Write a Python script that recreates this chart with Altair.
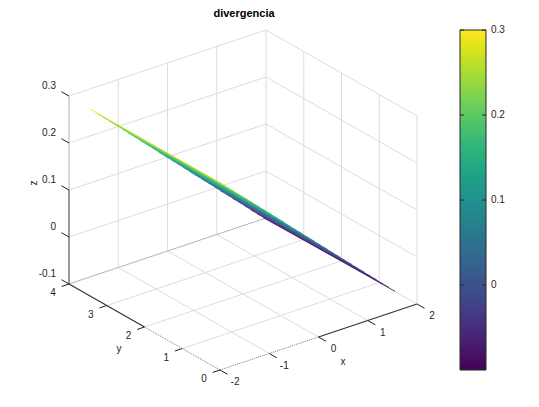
import altair as alt
import pandas as pd
import numpy as np

TITLE = "divergencia"
X_TICKS = [-2, -1, 0, 1, 2]
Y_TICKS = [0, 1, 2, 3, 4]
Z_TICKS = [-0.1, 0, 0.1, 0.2, 0.3]
BAR_TICKS = [0, 0.1, 0.2, 0.3]

SURF_X = [-1.75, -1.625, -1.5, -1.375, -1.25, -1.125, -1.0, -0.875, -0.75, -0.625,
          -0.5, -0.375, -0.25, -0.125, 0.0, 0.125, 0.25, 0.375, 0.5, 0.625,
          0.75, 0.875, 1.0, 1.125, 1.25, 1.375, 1.5, 1.625, 1.75]
SURF_Y = [0.25, 2.0, 3.75]
SURF_Z_Y0 = [.275, .262, .250, .237, .225, .212, .200, .187, .175, .162, .150, .137, .124, .112, .099,
             .087, .074, .062, .049, .037, .024, .012, -.001, -.013, -.026, -.038, -.051, -.063, -.076]
SURF_Z_Y1 = [.274, .262, .249, .237, .224, .212, .199, .187, .174, .162, .149, .136, .124, .111, .098,
             .086, .073, .061, .048, .036, .023, .010, -.002, -.014, -.027, -.040, -.052, -.065, -.077]
SURF_Z_Y2 = [.274, .261, .249, .236, .224, .211, .198, .186, .173, .161, .148, .135, .123, .110, .098,
             .085, .072, .060, .047, .035, .022, .009, -.003, -.016, -.028, -.041, -.054, -.066, -.079]
SURF_Z = [SURF_Z_Y0, SURF_Z_Y1, SURF_Z_Y2]

INK = "#262626"
FONT = "Liberation Sans"
W, H = 523, 391
sx = alt.Scale(domain=[8, 8 + W], range=[0, W], nice=False, zero=False)
sy = alt.Scale(domain=[8 + H, 8], range=[H, 0], nice=False, zero=False)
cs = alt.Scale(scheme="viridis", domain=[-0.1, 0.3], clamp=True)


def proj(x, y, z):
    """Oblique view of the box: x in [-2,2], y in [0,4], z in [-0.1,0.3]."""
    return (220 + (x + 2) * 49.25 - y * 37.75,
            370 - (x + 2) * 16.5 - y * 21.5 - (z + 0.1) * 470)


def bar_y(v):
    return 285 - v * 850


def seg_df(segs):
    rows = []
    for a, b in segs:
        p, q = proj(*a), proj(*b)
        rows.append({"px": p[0], "py": p[1], "px2": q[0], "py2": q[1]})
    return pd.DataFrame(rows)


def rules(df, color=None, **kw):
    enc = dict(
        x=alt.X("px:Q", scale=sx, axis=None),
        y=alt.Y("py:Q", scale=sy, axis=None),
        x2="px2:Q",
        y2="py2:Q",
    )
    return alt.Chart(df).mark_rule(color=color, **kw).encode(**enc)


def texts(rows, **kw):
    kw.setdefault("fontSize", 10)
    kw.setdefault("font", FONT)
    kw.setdefault("color", INK)
    return alt.Chart(pd.DataFrame(rows)).mark_text(**kw).encode(
        x=alt.X("px:Q", scale=sx, axis=None),
        y=alt.Y("py:Q", scale=sy, axis=None),
        text="label:N",
    )


zl, zh, fl = -0.1, 0.3, -0.1
grid = []
for v in [-1, 0, 1, 2]:
    grid.append(((v, 4, zl), (v, 4, zh)))
for v in [0, 1, 2, 3]:
    grid.append(((2, v, zl), (2, v, zh)))
for z in [0, 0.1, 0.2, 0.3]:
    grid.append(((-2, 4, z), (2, 4, z)))
    grid.append(((2, 0, z), (2, 4, z)))
for v in [-1, 0, 1]:
    grid.append(((v, 0, fl), (v, 4, fl)))
for v in [1, 2, 3]:
    grid.append(((-2, v, fl), (2, v, fl)))
grid.append(((2, 0, fl), (2, 4, fl)))

layers = [
    rules(seg_df(grid), color="#dcdcdc", strokeWidth=1),
    rules(seg_df([((-2, 4, fl), (2, 4, fl))]), color="#b4b4b4", strokeWidth=1),
    rules(seg_df([((-2, 4, 0.1), (-2, 4, 0.3))]), color="#bdbdbd", strokeWidth=1.2),
    rules(seg_df([((-2, 4, -0.1), (-2, 4, 0.1))]), color="#555555", strokeWidth=1.2),
    rules(seg_df([((-2, 2, fl), (-2, 4, fl)), ((0, 0, fl), (2, 0, fl))]), color="#333333", strokeWidth=1.2),
    rules(seg_df([((-2, 0, fl), (-2, 2, fl)), ((-2, 0, fl), (0, 0, fl))]), color="#777777",
          strokeWidth=1, strokeDash=[1, 1]),
]

ticks = []
for v in Z_TICKS:
    ticks.append(((-2, 4, v), (-2, 4.2, v)))
for v in Y_TICKS:
    ticks.append(((-2, v, fl), (-2.15, v, fl)))
for v in X_TICKS:
    ticks.append(((v, 0, fl), (v, -0.2, fl)))
layers.append(rules(seg_df(ticks), color="#222222", strokeWidth=1))

# surface: one coloured stroke per x value, per y span
surf = []
for i, x in enumerate(SURF_X):
    for j in range(len(SURF_Y) - 1):
        z0, z1 = SURF_Z[j][i], SURF_Z[j + 1][i]
        p, q = proj(x, SURF_Y[j], z0), proj(x, SURF_Y[j + 1], z1)
        surf.append({"px": p[0], "py": p[1], "px2": q[0], "py2": q[1], "z": (z0 + z1) / 2, "o": i})
layers.append(
    alt.Chart(pd.DataFrame(surf)).mark_rule(strokeWidth=0.8).encode(
        x=alt.X("px:Q", scale=sx, axis=None),
        y=alt.Y("py:Q", scale=sy, axis=None),
        x2="px2:Q",
        y2="py2:Q",
        color=alt.Color("z:Q", scale=cs, legend=None),
        order="o:Q",
    )
)

# colour bar
levels = np.linspace(-0.1, 0.3, 65)
bar = pd.DataFrame({
    "px": 460.0, "px2": 486.0,
    "py": [bar_y(v) for v in levels[:-1]],
    "py2": [bar_y(v) - 1.5 for v in levels[1:]],
    "v": (levels[:-1] + levels[1:]) / 2,
})
bar["py2"] = bar["py2"].clip(lower=bar_y(0.3))
layers.append(
    alt.Chart(bar).mark_rect().encode(
        x=alt.X("px:Q", scale=sx, axis=None),
        y=alt.Y("py:Q", scale=sy, axis=None),
        x2="px2:Q",
        y2="py2:Q",
        color=alt.Color("v:Q", scale=cs, legend=None),
        order="v:Q",
    )
)
frame = pd.DataFrame({"px": [460.0], "px2": [486.0], "py": [bar_y(-0.1)], "py2": [bar_y(0.3)]})
layers.append(
    alt.Chart(frame).mark_rect(fill=None, stroke="#262626", strokeWidth=1).encode(
        x=alt.X("px:Q", scale=sx, axis=None),
        y=alt.Y("py:Q", scale=sy, axis=None),
        x2="px2:Q",
        y2="py2:Q",
    )
)
bt = []
for v in BAR_TICKS:
    bt.append({"px": 460, "px2": 464, "py": bar_y(v), "py2": bar_y(v)})
    bt.append({"px": 482, "px2": 486, "py": bar_y(v), "py2": bar_y(v)})
layers.append(rules(pd.DataFrame(bt), color="#262626", strokeWidth=1))

# labels
layers.append(texts(
    [{"px": 491, "py": bar_y(v), "label": str(v)} for v in BAR_TICKS],
    align="left", baseline="middle"))
layers.append(texts(
    [{"px": proj(-2, 4, v)[0] - 13, "py": proj(-2, 4, v)[1] - 10, "label": str(v)} for v in Z_TICKS],
    align="right", baseline="middle"))
layers.append(texts(
    [{"px": proj(-2, v, fl)[0] - 16, "py": proj(-2, v, fl)[1] + 9, "label": str(v)} for v in Y_TICKS],
    align="center", baseline="middle"))
layers.append(texts(
    [{"px": proj(v, 0, fl)[0] + 15, "py": proj(v, 0, fl)[1] + 12, "label": str(v)} for v in X_TICKS],
    align="center", baseline="middle"))
layers.append(texts([{"px": 343, "py": 362, "label": "x"}, {"px": 119, "py": 349, "label": "y"}],
                    align="center", baseline="middle"))
layers.append(texts([{"px": 34, "py": 183, "label": "z"}], align="center", baseline="middle", angle=270))
layers.append(texts([{"px": 244, "py": 14, "label": TITLE}], align="center", baseline="middle",
                    fontWeight="bold", fontSize=11, color="#000000"))

chart = alt.layer(*layers).properties(
    width=W, height=H, padding=0,
    autosize=alt.AutoSizeParams(type="none"),
    background="white",
).configure_view(stroke=None)

chart.save("out.html", embed_options={"renderer": "svg", "actions": False})
